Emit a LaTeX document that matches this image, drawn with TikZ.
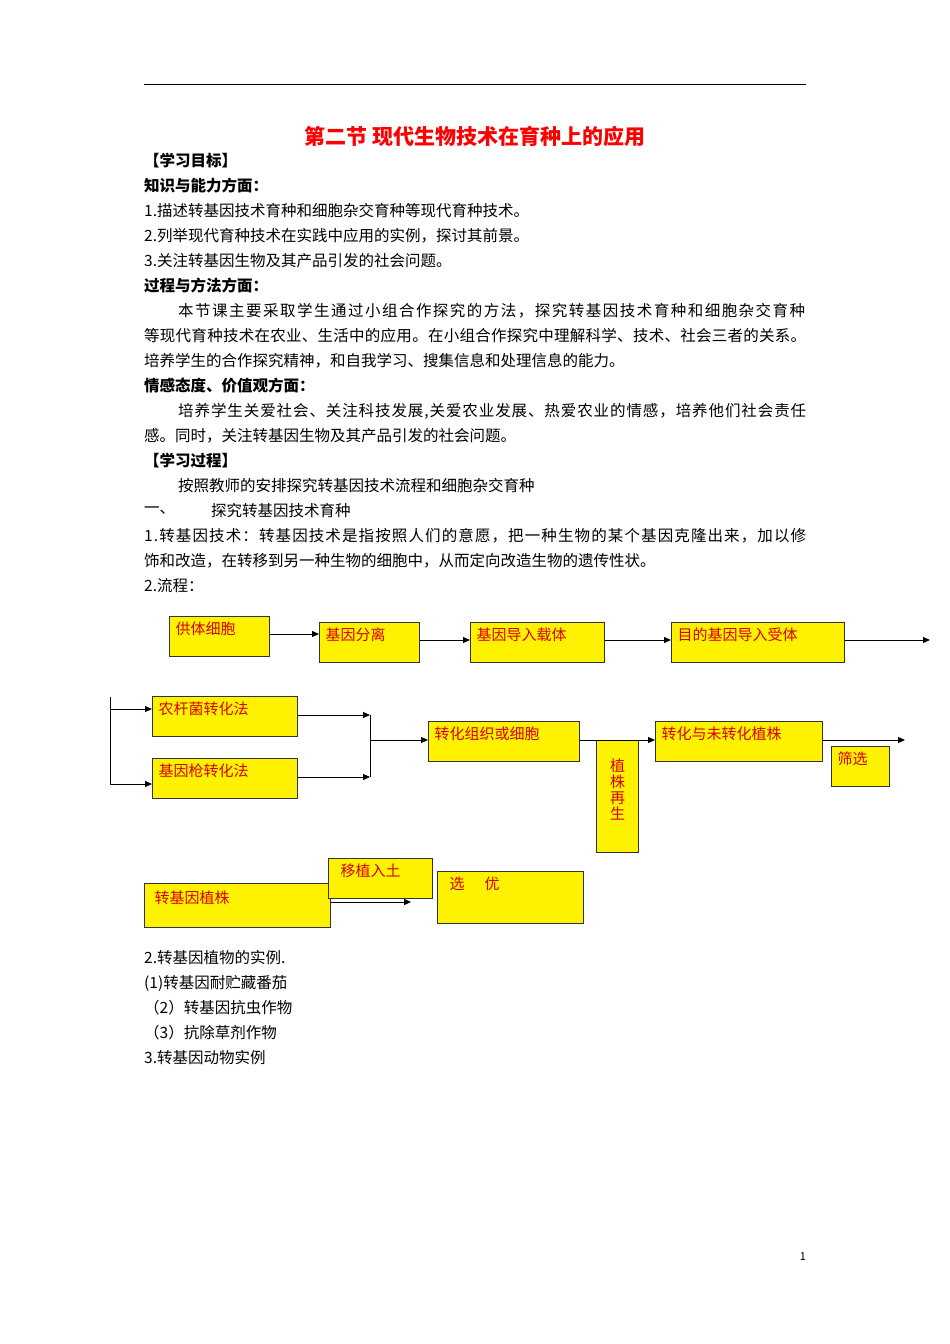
\documentclass[tikz,border=0pt]{standalone}
\usepackage{fontspec}
\setmainfont{Noto Sans CJK SC}
\usetikzlibrary{arrows.meta}
\def\spr#1{\ifx#1\relax\else#1\hskip 0pt plus 1fil\expandafter\spr\fi}
\newcommand{\jline}[2]{\hbox to #1pt{\spr #2\relax\unskip}}
\begin{document}
\begin{tikzpicture}[x=1pt,y=-1pt,
  txt/.style={anchor=west,inner sep=0pt,font=\fontsize{15.5}{18}\selectfont},
  bld/.style={txt,font=\fontsize{15.5}{18}\selectfont\bfseries},
  fbox/.style={draw=black!80,line width=1.3pt,fill=yellow,inner sep=0pt,text=red!85!black,font=\fontsize{15}{18}\selectfont},
  arr/.style={-{Triangle[length=7pt,width=6pt]},line width=1pt},
  ln/.style={line width=1pt}]
\useasboundingbox[fill=white] (0,0) rectangle (950,1344);
\draw[line width=0.8pt] (144,84) -- (806,84);
\node[inner sep=0pt,text=red,font=\fontsize{21}{24}\selectfont\bfseries] (title) at (475,136) {第二节 现代生物技术在育种上的应用};
\node[bld] (l1) at (144,161) {【学习目标】};
\node[bld] (l2) at (144,186) {知识与能力方面：};
\node[txt] (l3) at (144,211) {1.描述转基因技术育种和细胞杂交育种等现代育种技术。};
\node[txt] (l4) at (144,236) {2.列举现代育种技术在实践中应用的实例，探讨其前景。};
\node[txt] (l5) at (144,261) {3.关注转基因生物及其产品引发的社会问题。};
\node[bld] (l6) at (144,286) {过程与方法方面：};
\node[txt] (l7) at (178,311) {\jline{627}{本节课主要采取学生通过小组合作探究的方法，探究转基因技术育种和细胞杂交育种}};
\node[txt] (l8) at (144,336) {\jline{662}{等现代育种技术在农业、生活中的应用。在小组合作探究中理解科学、技术、社会三者的关系。}};
\node[txt] (l9) at (144,361) {培养学生的合作探究精神，和自我学习、搜集信息和处理信息的能力。};
\node[bld] (l10) at (144,386) {情感态度、价值观方面：};
\node[txt] (l11) at (178,411) {\jline{628}{培养学生关爱社会、关注科技发展,关爱农业发展、热爱农业的情感，培养他们社会责任}};
\node[txt] (l12) at (144,436) {感。同时，关注转基因生物及其产品引发的社会问题。};
\node[bld] (l13) at (144,461) {【学习过程】};
\node[txt] (l14) at (178,486) {按照教师的安排探究转基因技术流程和细胞杂交育种};
\node[txt] (l15a) at (144,511) {一、};
\node[txt] (l15b) at (211,511) {探究转基因技术育种};
\node[txt] (l16) at (144,536) {\jline{662}{1.转基因技术：转基因技术是指按照人们的意愿，把一种生物的某个基因克隆出来，加以修}};
\node[txt] (l17) at (144,561) {饰和改造，在转移到另一种生物的细胞中，从而定向改造生物的遗传性状。};
\node[txt] (l18) at (144,586) {2.流程：};
% row 1
\node[fbox,minimum width=100pt,minimum height=37pt,anchor=north west,align=left,text width=88pt,inner xsep=6pt,inner ysep=5pt,text depth=17pt] (b1) at (169,616) {供体细胞};
\node[fbox,minimum width=100pt,minimum height=37pt,anchor=north west,text width=88pt,inner xsep=6pt,inner ysep=5pt,text depth=17pt] (b2) at (319,622) {基因分离};
\node[fbox,minimum width=134pt,minimum height=37pt,anchor=north west,text width=122pt,inner xsep=6pt,inner ysep=5pt,text depth=17pt] (b3) at (470,622) {基因导入载体};
\node[fbox,minimum width=173pt,minimum height=37pt,anchor=north west,text width=161pt,inner xsep=6pt,inner ysep=5pt,text depth=17pt] (b4) at (671,622) {目的基因导入受体};
\coordinate (e1) at (930,640);
\draw[arr] (b1.east|-0,634) -- (b2.west|-0,634);
\draw[arr] (b2.east|-0,640) -- (b3.west|-0,640);
\draw[arr] (b3.east|-0,640) -- (b4.west|-0,640);
\draw[arr] (b4.east|-0,640) -- (e1);
% row 2
\node[fbox,minimum width=145pt,minimum height=37pt,anchor=north west,text width=133pt,inner xsep=6pt,inner ysep=5pt,text depth=17pt] (c1) at (152,696) {农杆菌转化法};
\node[fbox,minimum width=145pt,minimum height=38pt,anchor=north west,text width=133pt,inner xsep=6pt,inner ysep=5pt,text depth=17pt] (c2) at (152,758) {基因枪转化法};
\coordinate (v0) at (110,697);
\coordinate (v1) at (110,784);
\draw[ln] (v0) -- (v1);
\draw[arr] (110,709) -- (c1.west|-0,709);
\draw[arr] (v1) -- (c2.west|-0,784);
\coordinate (j1) at (370,715);
\coordinate (j2) at (370,777);
\draw[arr] (c1.east|-0,715) -- (j1);
\draw[arr] (c2.east|-0,777) -- (j2);
\draw[ln] (j1) -- (j2);
\node[fbox,minimum width=151pt,minimum height=38pt,anchor=north west,text width=139pt,inner xsep=6pt,inner ysep=5pt,text depth=17pt] (c3) at (428,721) {转化组织或细胞};
\draw[arr] (370,740) -- (c3.west|-0,740);
\node[fbox,minimum width=42pt,minimum height=112pt,anchor=north west,align=center,text width=30pt,inner xsep=6pt,inner ysep=3pt,font=\fontsize{15}{16}\selectfont,text depth=62pt] (c4) at (596,740) {植\\株\\再\\生};
\node[fbox,minimum width=167pt,minimum height=38pt,anchor=north west,text width=155pt,inner xsep=6pt,inner ysep=5pt,text depth=17pt] (c5) at (655,721) {转化与未转化植株};
\draw[arr] (c3.east|-0,740) -- (c5.west|-0,740);
\node[fbox,minimum width=58pt,minimum height=37pt,anchor=north west,text width=46pt,inner xsep=6pt,inner ysep=5pt,text depth=17pt] (c6) at (831,746) {筛选};
\coordinate (e2) at (905,740);
\draw[arr] (c5.east|-0,740) -- (e2);
% row 3
\node[fbox,minimum width=178pt,minimum height=37pt,anchor=north west,text width=166pt,inner xsep=10pt,inner ysep=7pt,text depth=17pt] (d1) at (144,883) {转基因植株};
\node[fbox,minimum width=92pt,minimum height=37pt,anchor=north west,text width=80pt,inner xsep=12pt,inner ysep=5pt,text depth=17pt] (d2) at (328,858) {移植入土};
\coordinate (e3) at (411,902);
\draw[arr] (d1.east|-0,902) -- (e3);
\node[fbox,minimum width=134pt,minimum height=49pt,anchor=north west,text width=122pt,inner xsep=12pt,inner ysep=5pt,text depth=29pt] (d3) at (437,871) {选\quad\ 优};
% after
\node[txt] (m1) at (144,958) {2.转基因植物的实例.};
\node[txt] (m2) at (144,983) {(1)转基因耐贮藏番茄};
\node[txt] (m3) at (144,1008) {（2）转基因抗虫作物};
\node[txt] (m4) at (144,1033) {（3）抗除草剂作物};
\node[txt] (m5) at (144,1058) {3.转基因动物实例};
\node[inner sep=0pt,font=\fontsize{11}{12}\selectfont] (pg) at (803,1257) {1};
\end{tikzpicture}
\end{document}
